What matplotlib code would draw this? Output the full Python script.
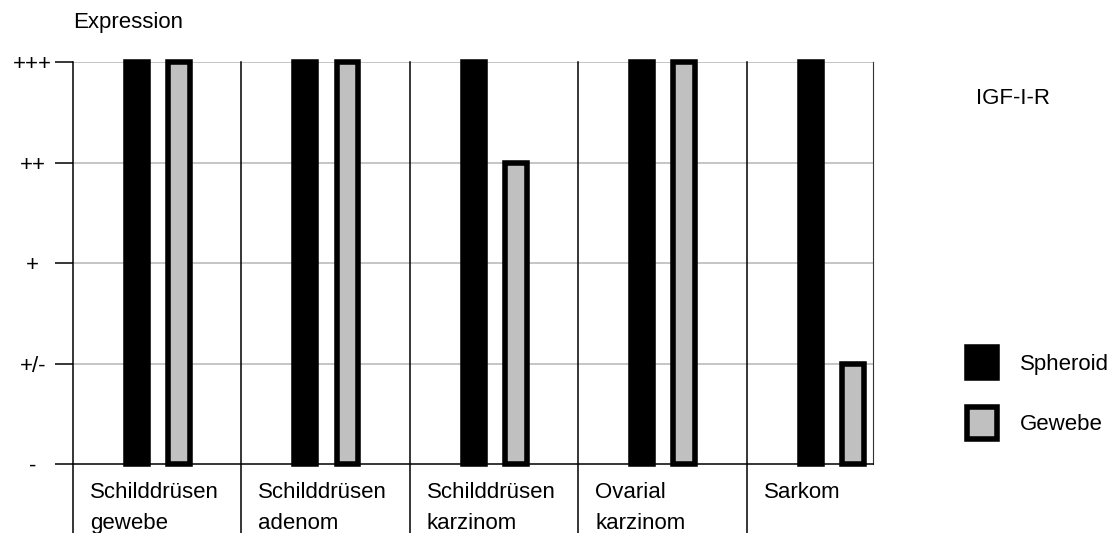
import numpy as np
import matplotlib
matplotlib.use("Agg")
import matplotlib.pyplot as plt
import matplotlib.transforms as mtransforms
from matplotlib.patches import Patch

plt.rcParams['font.family'] = ['Liberation Sans', 'DejaVu Sans']
plt.rcParams['font.size'] = 16

# data
categories = ["Schilddrüsen\ngewebe", "Schilddrüsen\nadenom", "Schilddrüsen\nkarzinom",
              "Ovarial\nkarzinom", "Sarkom"]
level_labels = ["-", "+/-", "+", "++", "+++"]
spheroid = [4, 4, 4, 4, 4]
gewebe = [4, 4, 3, 4, 1]

W, H = 1113, 533
fig = plt.figure(figsize=(W / 100, H / 100), dpi=100)
ax = fig.add_axes([73 / W, 1 - 464 / H, 800 / W, 402 / H])

x = np.arange(len(categories))
bw = 0.13
ax.bar(x + 0.38, spheroid, bw, color='black', edgecolor='black', lw=4,
       clip_on=False, zorder=3, label='Spheroid')
ax.bar(x + 0.63, gewebe, bw, color='#c0c0c0', edgecolor='black', lw=4,
       clip_on=False, zorder=3, label='Gewebe')

ax.set_xlim(0, 4.75)
ax.set_ylim(0, 4)
ax.set_xticks([])
ax.set_yticks(range(len(level_labels)))
ax.set_yticklabels(level_labels, ha='center')
ax.tick_params(axis='y', length=13, width=1.1, pad=16, colors='black')

ax.set_axisbelow(True)
for lv in range(1, len(level_labels)):
    ax.axhline(lv, color='#b5b5b5', lw=1.1, zorder=1)

ax.spines['top'].set_visible(False)
ax.spines['left'].set_visible(False)
ax.spines['bottom'].set_linewidth(1.1)
ax.spines['right'].set_linewidth(0.8)
ax.spines['right'].set_color('#333333')

# group separators, running down through the label area
low = -(H - 464) / 402
for sep in range(len(categories)):
    ax.axvline(sep, ymin=low, ymax=1, color='black', lw=1.1, clip_on=False, zorder=2)

trans = mtransforms.blended_transform_factory(ax.transData, ax.transAxes)
for i, cat in enumerate(categories):
    ax.text(i + 0.1, -0.045, cat, transform=trans, ha='left', va='top',
            linespacing=1.62)

fig.text(73 / W, 1 - 22 / H, 'Expression', ha='left', va='center')
fig.text(976 / W, 1 - 98 / H, 'IGF-I-R', ha='left', va='center')

handles = [Patch(facecolor='black', edgecolor='black', lw=4),
           Patch(facecolor='#c0c0c0', edgecolor='black', lw=4)]
fig.legend(handles, ['Spheroid', 'Gewebe'], loc='upper left',
           bbox_to_anchor=(967 / W, 1 - 347 / H), bbox_transform=fig.transFigure,
           frameon=False, borderpad=0, borderaxespad=0, handlelength=1.33,
           handleheight=1.8, handletextpad=1.04, labelspacing=1.3)

fig.savefig('out.png', dpi=100)
